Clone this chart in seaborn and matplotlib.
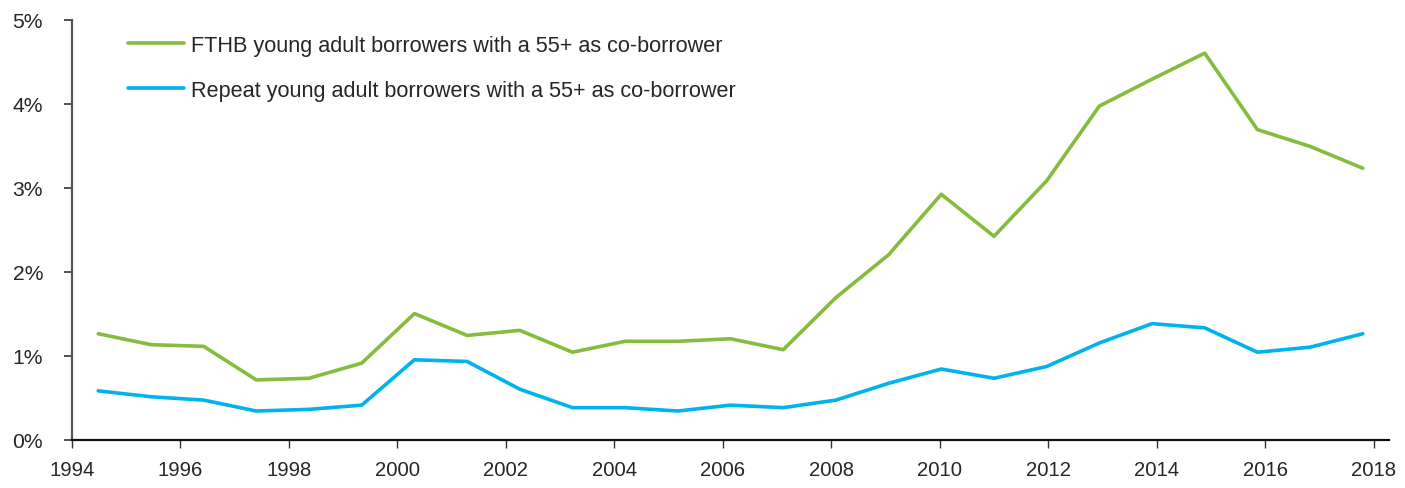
import numpy as np
import pandas as pd
import matplotlib
matplotlib.use("Agg")
import matplotlib.pyplot as plt
import seaborn as sns

years = list(range(1994, 2019))
fthb = [1.26, 1.13, 1.11, 0.71, 0.73, 0.91, 1.50, 1.24, 1.30, 1.04, 1.17, 1.17, 1.20, 1.07,
        1.69, 2.20, 2.92, 2.42, 3.08, 3.97, 4.29, 4.60, 3.69, 3.49, 3.23]
repeat = [0.58, 0.51, 0.47, 0.34, 0.36, 0.41, 0.95, 0.93, 0.60, 0.38, 0.38, 0.34, 0.41, 0.38,
          0.47, 0.67, 0.84, 0.73, 0.87, 1.15, 1.38, 1.33, 1.04, 1.10, 1.26]
labels = ["FTHB young adult borrowers with a 55+ as co-borrower",
          "Repeat young adult borrowers with a 55+ as co-borrower"]
colors = ["#86BC3E", "#00B2EE"]
tick_years = list(range(1994, 2019, 2))
y_ticks = [0, 1, 2, 3, 4, 5]

df = pd.concat([
    pd.DataFrame({"year": years, "value": fthb, "series": labels[0]}),
    pd.DataFrame({"year": years, "value": repeat, "series": labels[1]}),
])

sns.set_style("white")
plt.rcParams["font.family"] = ["Liberation Sans", "DejaVu Sans"]

fig = plt.figure(figsize=(14.05, 4.89), dpi=100)
ax = fig.add_axes([0.0512, 0.099, 0.9375, 0.859])
sns.lineplot(data=df, x="year", y="value", hue="series", palette=colors,
             linewidth=2.6, ax=ax, legend=True)

ax.set_xlim(1993.5, 2018.5)
ax.set_ylim(0, 5)
scale = 54.2 / 52.65
ax.set_xticks([1993.5 + (t - 1994) * scale for t in tick_years])
ax.set_xticklabels([str(t) for t in tick_years])
ax.set_yticks(y_ticks)
ax.set_yticklabels([f"{v}%" for v in y_ticks])
ax.set_xlabel("")
ax.set_ylabel("")

for s in ["top", "right"]:
    ax.spines[s].set_visible(False)
ax.spines["left"].set_color("#555555")
ax.spines["left"].set_linewidth(1.6)
ax.spines["bottom"].set_color("#111111")
ax.spines["bottom"].set_linewidth(1.6)
ax.tick_params(axis="y", direction="out", length=5.8, width=1.2, color="#333333",
               labelsize=15.2, pad=15, left=True)
ax.tick_params(axis="x", direction="out", length=5.5, width=1.0, color="#333333",
               labelsize=14.6, pad=9, bottom=True)

ax.legend(loc="upper left", bbox_to_anchor=(0.028, 1.01), frameon=False,
          fontsize=15.6, handlelength=2.55, handletextpad=0.32, labelspacing=1.1)

fig.savefig("out.png", dpi=100)
